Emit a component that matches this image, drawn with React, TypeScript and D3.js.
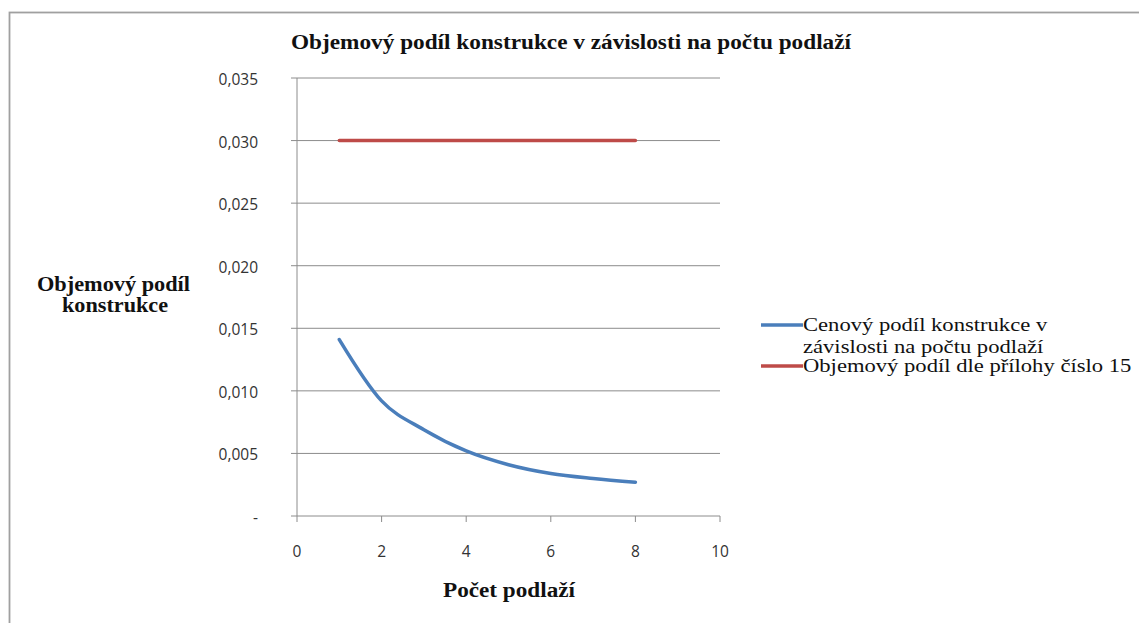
import React, { useEffect, useRef } from 'react'
import * as d3 from 'd3'

// podlaží
const floors = [1, 2, 3, 4, 5, 6, 7, 8]
// cenový podíl konstrukce
const priceShare = [0.0141, 0.0092, 0.0069, 0.0052, 0.0041, 0.0034, 0.003, 0.0027]
// objemový podíl dle přílohy
const annexShare = [0.03, 0.03, 0.03, 0.03, 0.03, 0.03, 0.03, 0.03]

const yTicks = [0, 0.005, 0.01, 0.015, 0.02, 0.025, 0.03, 0.035]
const xTicks = [0, 2, 4, 6, 8, 10]

const seriesNames = [
  ['Cenový podíl konstrukce v', 'závislosti na počtu podlaží'],
  ['Objemový podíl dle přílohy číslo 15'],
]
const colors = ['#4a7ebb', '#be4b48']

export default function App() {
  const svgRef = useRef<SVGSVGElement>(null)

  useEffect(() => {
    const svg = d3.select(svgRef.current)
    svg.selectAll('*').remove()

    const width = 1139
    const height = 623
    const serif = '"Liberation Serif", "Times New Roman", serif'
    const sans = '"Open Sans", "Noto Sans", sans-serif'

    svg.attr('width', width).attr('height', height)

    // frame
    svg.append('rect')
      .attr('x', 9.5).attr('y', 12.5)
      .attr('width', 1300).attr('height', 800)
      .attr('fill', '#fff')
      .attr('stroke', '#a0a0a0')
      .attr('stroke-width', 1.8)

    const x = d3.scaleLinear().domain([0, 10]).range([297, 720])
    const y = d3.scaleLinear().domain([0, 0.035]).range([516, 78])

    // gridlines
    svg.append('g').selectAll('line')
      .data(yTicks.slice(1))
      .join('line')
      .attr('x1', 291).attr('x2', 720)
      .attr('y1', d => y(d)).attr('y2', d => y(d))
      .attr('stroke', '#8c8c8c')
      .attr('stroke-width', 1)

    // axes
    svg.append('line')
      .attr('x1', x(0)).attr('x2', x(0))
      .attr('y1', y(0.035)).attr('y2', y(0))
      .attr('stroke', '#8c8c8c')
    svg.append('line')
      .attr('x1', 291).attr('x2', x(10))
      .attr('y1', y(0)).attr('y2', y(0))
      .attr('stroke', '#8c8c8c')
    svg.append('g').selectAll('line')
      .data(xTicks)
      .join('line')
      .attr('x1', d => x(d)).attr('x2', d => x(d))
      .attr('y1', y(0)).attr('y2', y(0) + 6)
      .attr('stroke', '#8c8c8c')

    // tick labels
    svg.append('g').selectAll('text')
      .data(yTicks)
      .join('text')
      .attr('x', 258)
      .attr('y', d => y(d) + 7)
      .attr('text-anchor', 'end')
      .attr('font-family', sans)
      .attr('font-size', 15.5)
      .attr('fill', '#333')
      .text(d => d === 0 ? '-' : d.toFixed(3).replace('.', ','))

    svg.append('g').selectAll('text')
      .data(xTicks)
      .join('text')
      .attr('x', d => x(d))
      .attr('y', 557)
      .attr('text-anchor', 'middle')
      .attr('font-family', sans)
      .attr('font-size', 15.5)
      .attr('fill', '#333')
      .text(d => String(d))

    // lines
    const line = d3.line<number>()
      .x((_, i) => x(floors[i]))
      .y(d => y(d))
      .curve(d3.curveCardinal.tension(0))

    ;[priceShare, annexShare].forEach((vals, i) => {
      svg.append('path')
        .attr('d', line(vals))
        .attr('fill', 'none')
        .attr('stroke', colors[i])
        .attr('stroke-width', 3.5)
        .attr('stroke-linecap', 'round')
    })

    const boldText = (s: string, cx: number, by: number, len: number) =>
      svg.append('text')
        .attr('x', cx).attr('y', by)
        .attr('text-anchor', 'middle')
        .attr('font-family', serif)
        .attr('font-weight', 'bold')
        .attr('font-size', 20)
        .attr('fill', '#111')
        .attr('textLength', len)
        .attr('lengthAdjust', 'spacingAndGlyphs')
        .text(s)

    // title + axis titles
    boldText('Objemový podíl konstrukce v závislosti na počtu podlaží', 571, 49, 560)
    boldText('Počet podlaží', 509, 597, 132)
    boldText('Objemový podíl', 113.5, 291, 153)
    boldText('konstrukce', 115, 312, 106)

    // legend
    const legendRows = [325, 366]
    seriesNames.forEach((lines, i) => {
      const ly = legendRows[i]
      svg.append('line')
        .attr('x1', 761).attr('x2', 803)
        .attr('y1', ly).attr('y2', ly)
        .attr('stroke', colors[i])
        .attr('stroke-width', 3.5)
      const g = svg.append('g')
        .attr('transform', `translate(803,0) scale(1.19,1)`)
      lines.forEach((s, j) => {
        g.append('text')
          .attr('x', 0).attr('y', ly + 6 + j * 22)
          .attr('font-family', serif)
          .attr('font-size', 19)
          .attr('fill', '#111')
          .text(s)
      })
    })
  }, [])

  return (
    <div style={{ position: 'absolute', left: 0, top: 0 }}>
      <svg ref={svgRef} style={{ display: 'block' }} />
    </div>
  )
}
